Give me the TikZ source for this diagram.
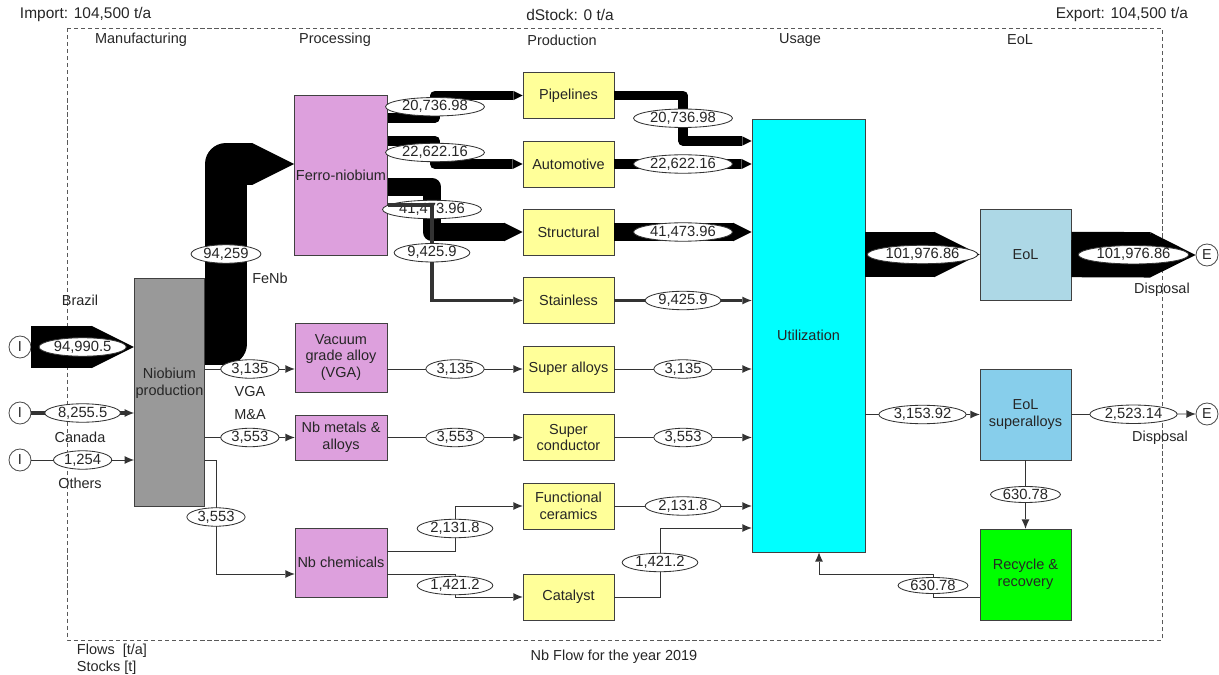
\documentclass[tikz,border=0pt]{standalone}
\usepackage{fontspec}
\setmainfont{Liberation Sans}
\usetikzlibrary{arrows.meta,shapes.geometric}
\definecolor{mfgray}{HTML}{999999}
\definecolor{procpink}{HTML}{DDA0DD}
\definecolor{prodyellow}{HTML}{FFFF99}
\definecolor{usecyan}{HTML}{00FFFF}
\definecolor{eolblue}{HTML}{ADD8E6}
\definecolor{supblue}{HTML}{87CEEB}
\definecolor{recgreen}{HTML}{00FF00}
\begin{document}
\begin{tikzpicture}[x=0.025cm, y=-0.025cm, font=\fontsize{10.3}{11.8}\selectfont, text=black!85,
	proc/.style={draw=black!75, line width=.6pt, align=center, inner sep=1pt},
	procbox/.style={proc, fill=procpink, minimum width=2.3cm},
	prodbox/.style={proc, fill=prodyellow, minimum width=2.275cm, minimum height=1.15cm},
	eolbox/.style={proc, minimum width=2.275cm, minimum height=2.275cm},
	term/.style={circle, draw=black!70, fill=white, line width=.6pt, minimum size=.55cm, inner sep=0pt},
	val/.style={ellipse, draw=black!80, fill=white, line width=.6pt, inner xsep=1.5pt, inner ysep=.3pt, font=\fontsize{10.5}{12}\selectfont},
	flow/.style={draw=black!80, line width=.6pt, -{Latex[length=6.5pt, width=5.5pt, line width=0pt]}},
	band/.style={draw=black, line width=#1, line join=round, -{Triangle[length=#1, width=#1, line width=0pt]}}]
	\useasboundingbox (0,0) rectangle (1219,675);
	% system boundary and headings
	\draw[black!65, dash pattern=on 3pt off 2pt] (67,28) rectangle (1162,640);
	\node[anchor=west, font=\fontsize{11}{13}\selectfont] (imp) at (15,15) {Import: 104,500 t/a};
	\node[font=\fontsize{11}{13}\selectfont] (dst) at (570,15) {dStock: 0 t/a};
	\node[anchor=east, font=\fontsize{11}{13}\selectfont] (exp) at (1193,15) {Export: 104,500 t/a};
	\foreach \x/\t/\n in {141/Manufacturing/hmf, 335/Processing/hpr, 562/Production/hpd, 800/Usage/hus, 1020/EoL/heo}
		\node (\n) at (\x,40) {\t};
	\node[anchor=west, align=left] (units) at (72,659) {Flows\ \ [t/a]\\Stocks [t]};
	\node (title) at (614,657) {Nb Flow for the year 2019};
	% processes
	\node[proc, fill=mfgray, minimum width=1.725cm, minimum height=5.7cm] (niob) at (169.5,392) {Niobium\\production\\[3pt]};
	\node[procbox, minimum height=4cm] (fenb) at (341,175) {Ferro-niobium};
	\node[procbox, minimum height=1.725cm] (vga) at (341,357.5) {Vacuum\\grade alloy\\(VGA)};
	\node[procbox, minimum height=1.125cm] (nbma) at (341,437.5) {Nb metals \&\\alloys};
	\node[procbox, minimum height=1.725cm] (nbchem) at (341,562.5) {Nb chemicals};
	\foreach \n/\y/\t in {pipe/95.5/Pipelines, auto/164/Automotive, struct/232/Structural, stain/300.5/Stainless,
		supall/369/Super alloys, supcon/437.5/Super\\conductor, func/506/Functional\\ceramics, cat/597/Catalyst}
		\node[prodbox] (\n) at (568.5,\y) {\t};
	\node[proc, fill=usecyan, minimum width=2.825cm, minimum height=10.825cm] (util) at (808.5,335.5) {Utilization};
	\node[eolbox, fill=eolblue] (eol) at (1025.5,254.5) {EoL};
	\node[eolbox, fill=supblue] (eolsup) at (1025.5,414.5) {EoL\\superalloys};
	\node[eolbox, fill=recgreen] (rec) at (1025.5,574.5) {Recycle \&\\recovery};
	% import and export terminals
	\node[term] (ibr) at (20,347) {I};
	\node[term] (ica) at (20,413) {I};
	\node[term] (iot) at (20,460) {I};
	\node[term] (edis) at (1207,255) {E};
	\node[term] (esup) at (1207,414) {E};
	\node (brazil) at (80,300) {Brazil};
	\node (canada) at (80,437) {Canada};
	\node (others) at (80,483) {Others};
	\node (fenbl) at (270,278) {FeNb};
	\node (vgal) at (250,392) {VGA};
	\node (mal) at (250,415) {M\&A};
	\node (disp1) at (1162,290) {Disposal};
	\node (disp2) at (1160,438) {Disposal};
	% imports
	\draw[band=30pt] (ibr) -- node[val]{94,990.5} (niob.west |- ibr);
	\draw[flow, line width=2.2pt] (ica) -- node[val]{8,255.5} (niob.west |- ica);
	\draw[flow] (iot) -- node[val]{1,254} (niob.west |- iot);
	% manufacturing to processing
	\draw[band=29.9pt] (niob.east |- 0,344) -| node[val, pos=.75]{94,259} (226,164) -- (fenb.west |- 0,164);
	\draw[flow] (niob.east |- 0,369) -- node[val]{3,135} (vga.west |- 0,369);
	\draw[flow] (niob.east |- nbma) -- node[val]{3,553} (nbma.west);
	\draw[flow] (niob.east |- 0,460) -| node[val, pos=.75]{3,553} (216,574) -- (nbchem.west |- 0,574);
	% processing to production
	\draw[band=6.6pt] (fenb.east |- 0,118) -| node[val, pos=.75]{20,736.98} (435,0 |- pipe.west) -- (pipe.west);
	\draw[band=7.2pt] (fenb.east |- 0,141) -| node[val, pos=.75]{22,622.16} (435,0 |- auto.west) -- (auto.west);
	\draw[band=13.2pt] (fenb.east |- 0,187) -| node[val, pos=.75]{41,473.96} (432,0 |- struct.west) -- (struct.west);
	\draw[flow, line width=2.4pt] (fenb.east |- 0,205) -| node[val, pos=.75]{9,425.9} (432,0 |- stain.west) -- (stain.west);
	\draw[flow] (vga.east |- supall) -- node[val]{3,135} (supall.west);
	\draw[flow] (nbma.east |- supcon) -- node[val]{3,553} (supcon.west);
	\draw[flow] (nbchem.east |- 0,551) -| node[val, pos=.75]{2,131.8} (455,0 |- func.west) -- (func.west);
	\draw[flow] (nbchem.east |- 0,574) -| node[val, pos=.75]{1,421.2} (455,0 |- cat.west) -- (cat.west);
	% production to usage
	\draw[band=6.6pt] (pipe.east) -| node[val, pos=.75]{20,736.98} (683,141) -- (util.west |- 0,141);
	\draw[band=7.2pt] (auto.east) -- node[val]{22,622.16} (util.west |- auto);
	\draw[band=13.2pt] (struct.east) -- node[val]{41,473.96} (util.west |- struct);
	\draw[flow, line width=2.4pt] (stain.east) -- node[val]{9,425.9} (util.west |- stain);
	\draw[flow] (supall.east) -- node[val]{3,135} (util.west |- supall);
	\draw[flow] (supcon.east) -- node[val]{3,553} (util.west |- supcon);
	\draw[flow] (func.east) -- node[val]{2,131.8} (util.west |- func);
	\draw[flow] (cat.east) -| node[val, pos=.75]{1,421.2} (660,528) -- (util.west |- 0,528);
	% end of life
	\draw[band=32.3pt] (util.east |- eol) -- node[val]{101,976.86} (eol.west);
	\draw[band=32.3pt] (eol.east) -- node[val]{101,976.86} (edis.west);
	\draw[flow] (util.east |- eolsup) -- node[val]{3,153.92} (eolsup.west);
	\draw[flow] (eolsup.east) -- node[val]{2,523.14} (esup.west);
	\draw[flow] (eolsup.south) -- node[val]{630.78} (rec.north);
	\draw[flow] (rec.west |- 0,597) -| node[val, pos=.75]{630.78} (933,574) -| (util.south -| 819,0);
\end{tikzpicture}
\end{document}
